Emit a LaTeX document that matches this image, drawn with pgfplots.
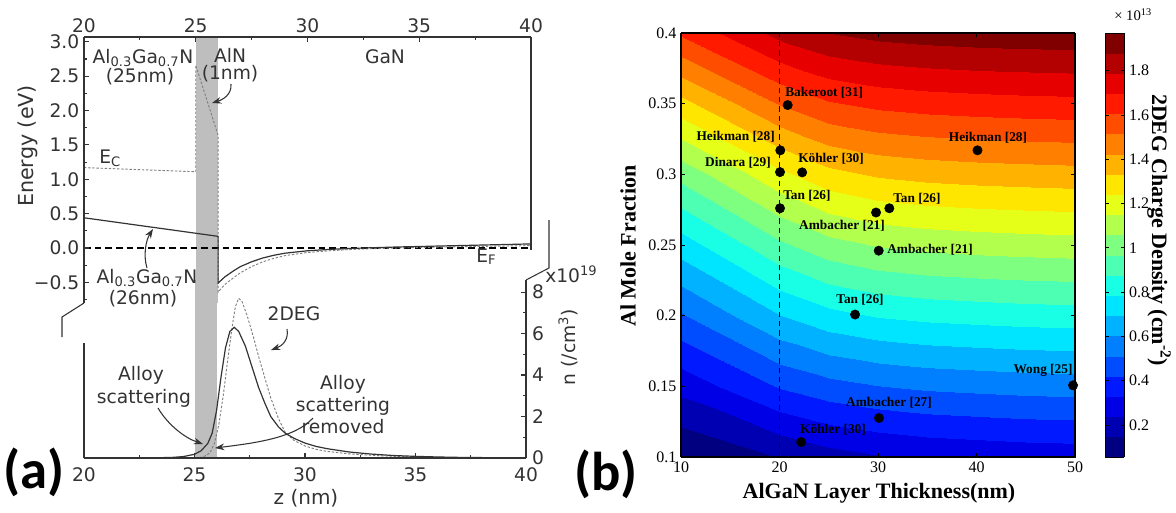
\documentclass[border=0pt]{standalone}
\usepackage{pgfplots}
\pgfplotsset{compat=1.18}
\usetikzlibrary{arrows.meta}
\usepackage{fontspec}
\setmainfont{DejaVu Sans}
\newfontfamily\tms{Liberation Serif}
\newfontfamily\calb{Carlito}
\definecolor{spine}{HTML}{333333}
\definecolor{band}{HTML}{BEBEBE}
\newcommand{\fa}{\fontsize{14}{16}\selectfont}
\newcommand{\fbt}{\tms\fontsize{12}{14}\selectfont}
\newcommand{\fbl}{\tms\bfseries\fontsize{10}{12}\selectfont}
\newcommand{\fbx}{\tms\bfseries\fontsize{16.5}{19}\selectfont}
\begin{document}
\begin{tikzpicture}
\useasboundingbox (0,0) rectangle (882pt,-384pt);

% ---------------- (a) upper: energy ----------------
\begin{axis}[
  at={(63pt,-227.25pt)}, anchor=south west,
  scale only axis, width=335.25pt, height=199.5pt,
  xmin=20, xmax=40, ymin=-0.8, ymax=3.07,
  axis x line*=top, axis y line*=left,
  axis line style={spine, line width=0.8pt},
  xtick={20,25,30,35,40}, xticklabels={20,25,30,35,40},
  minor xtick={22.5,27.5,32.5,37.5},
  ytick={-0.5,0,0.5,1,1.5,2,2.5,3},
  yticklabels={−0.5,0.0,0.5,1.0,1.5,2.0,2.5,3.0},
  minor ytick={-0.75,-0.25,0.25,0.75,1.25,1.75,2.25,2.75},
  tick align=inside, major tick length=3.75pt, minor tick length=2pt,
  tick style={spine, line width=0.8pt},
  tick label style={font=\fa, text=spine},
  axis on top, clip=false,
]
\addplot[fill=band, draw=none] coordinates {(25,-0.8) (26,-0.8) (26,3.07) (25,3.07)} -- cycle;
\addplot[black, line width=0.8pt, dash pattern=on 5pt off 3pt] coordinates {(20,0) (40,0)};
\addplot[gray, line width=0.7pt, dash pattern=on 1.8pt off 1.3pt] coordinates {
(20,1.17) (25,1.11) (25,2.66) (26,1.64) (26,-0.64) (26.3,-0.53) (26.7,-0.43) (27,-0.36)
(27.5,-0.27) (28,-0.2) (28.5,-0.15) (29,-0.11) (30,-0.065) (31,-0.04) (32,-0.02) (33,-0.008)
(34,0.0) (35,0.008) (36,0.014) (37,0.02) (38,0.025) (39,0.03) (40,0.035)};
\addplot[spine, line width=0.9pt] coordinates {
(20,0.44) (26,0.17) (26,-0.51) (26.3,-0.42) (26.7,-0.33) (27.0,-0.27) (27.5,-0.20) (28,-0.145)
(28.5,-0.105) (29,-0.075) (30,-0.04) (31,-0.02) (32,-0.005) (33,0.005) (34,0.015) (35,0.022)
(36,0.03) (37,0.037) (38,0.045) (39,0.052) (40,0.06)};
\end{axis}

% ---------------- (a) lower: density ----------------
\begin{axis}[
  at={(63pt,-343.5pt)}, anchor=south west,
  scale only axis, width=331.5pt, height=133.5pt,
  xmin=20, xmax=40, ymin=0, ymax=8.58,
  axis x line*=bottom, axis y line*=right,
  axis line style={spine, line width=0.8pt},
  xtick={20,25,30,35,40}, xticklabels={20,25,30,35,40},
  minor xtick={22.5,27.5,32.5,37.5},
  ytick={0,2,4,6,8}, yticklabels={0,2,4,6,8},
  minor ytick={1,3,5,7},
  tick align=inside, major tick length=3.75pt, minor tick length=2pt,
  tick style={spine, line width=0.8pt},
  tick label style={font=\fa, text=spine},
  xticklabel style={yshift=-3.5pt},
  yticklabel style={xshift=1pt},
  axis on top, clip=false,
]
\addplot[fill=band, draw=none] coordinates {(25,0) (26,0) (26,8.58) (25,8.58)} -- cycle;
\addplot[gray, line width=0.7pt, dash pattern=on 1.8pt off 1.3pt] coordinates {
(20,0) (25,0) (25.4,0.05) (25.7,0.25) (25.9,0.7) (26.1,1.6) (26.3,3.0) (26.5,4.7) (26.7,6.3)
(26.85,7.3) (27.0,7.7) (27.15,7.55) (27.4,6.8) (27.7,5.7) (27.9,4.9) (28.2,3.8) (28.45,2.9)
(28.8,1.9) (29.1,1.25) (29.5,0.85) (30,0.58) (30.5,0.42) (31,0.32) (32,0.2) (33,0.13)
(34,0.08) (35,0.05) (36,0.03) (38,0.01) (40,0)};
\addplot[spine, line width=0.9pt] coordinates {
(20,0) (23,0.005) (24,0.03) (24.5,0.07) (25,0.18) (25.3,0.35) (25.6,0.7) (25.8,1.2) (26.0,2.3)
(26.2,3.9) (26.4,5.3) (26.6,6.1) (26.8,6.3) (27.0,6.1) (27.3,5.4) (27.6,4.4) (27.9,3.4)
(28.2,2.6) (28.45,2.0) (28.8,1.5) (29.1,1.2) (29.5,0.95) (30,0.72) (30.5,0.56) (31,0.45)
(32,0.29) (33,0.19) (34,0.12) (35,0.08) (36,0.05) (37,0.03) (38,0.02) (40,0.005)};
\end{axis}

% ---------------- (b) contour ----------------
\begin{axis}[
  at={(510.75pt,-342.75pt)}, anchor=south west,
  scale only axis, width=295.5pt, height=318pt,
  view={0}{90},
  xmin=10, xmax=50, ymin=0.1, ymax=0.4,
  ztick=\empty,
  colormap/jet,
  point meta min=0.055, point meta max=1.97,
  xtick={10,20,30,40,50}, xticklabels={10,20,30,40,50},
  ytick={0.1,0.15,0.2,0.25,0.3,0.35,0.4},
  yticklabels={0.1,0.15,0.2,0.25,0.3,0.35,0.4},
  tick align=inside, major tick length=3pt,
  tick style={black, line width=0.6pt},
  tick label style={font=\fbt},
  axis line style={black, line width=0.8pt},
  axis on top, clip=false,
  colorbar,
  colorbar style={
    at={(parent axis.north east)}, anchor=north west, xshift=14.25pt,
    width=14.25pt,
    ytick={0.2,0.4,0.6,0.8,1,1.2,1.4,1.6,1.8},
    yticklabels={0.2,0.4,0.6,0.8,1,1.2,1.4,1.6,1.8},
    yticklabel style={font=\fbt},
    tick align=inside, major tick length=2.5pt,
    axis line style={line width=0.4pt},
  },
]
\addplot3[contour filled={number=21}, mesh/cols=8] table[row sep=\\] {
x y z \\
10 0.10 0.030 \\ 20 0.10 0.150 \\ 25 0.10 0.200 \\ 30 0.10 0.230 \\ 35 0.10 0.250 \\ 40 0.10 0.260 \\ 45 0.10 0.270 \\ 50 0.10 0.275 \\
10 0.15 0.270 \\ 20 0.15 0.430 \\ 25 0.15 0.480 \\ 30 0.15 0.510 \\ 35 0.15 0.529 \\ 40 0.15 0.539 \\ 45 0.15 0.548 \\ 50 0.15 0.553 \\
10 0.20 0.500 \\ 20 0.20 0.690 \\ 25 0.20 0.755 \\ 30 0.20 0.790 \\ 35 0.20 0.808 \\ 40 0.20 0.818 \\ 45 0.20 0.827 \\ 50 0.20 0.832 \\
10 0.25 0.740 \\ 20 0.25 0.950 \\ 25 0.25 1.025 \\ 30 0.25 1.065 \\ 35 0.25 1.085 \\ 40 0.25 1.096 \\ 45 0.25 1.104 \\ 50 0.25 1.110 \\
10 0.30 1.000 \\ 20 0.30 1.220 \\ 25 0.30 1.305 \\ 30 0.30 1.345 \\ 35 0.30 1.364 \\ 40 0.30 1.375 \\ 45 0.30 1.382 \\ 50 0.30 1.388 \\
10 0.35 1.300 \\ 20 0.35 1.520 \\ 25 0.35 1.595 \\ 30 0.35 1.628 \\ 35 0.35 1.645 \\ 40 0.35 1.655 \\ 45 0.35 1.662 \\ 50 0.35 1.667 \\
10 0.40 1.620 \\ 20 0.40 1.820 \\ 25 0.40 1.880 \\ 30 0.40 1.910 \\ 35 0.40 1.925 \\ 40 0.40 1.935 \\ 45 0.40 1.940 \\ 50 0.40 1.945 \\
};
\addplot3[black, line width=0.6pt, dash pattern=on 4pt off 3pt] coordinates {(20,0.1,2) (20,0.4,2)};
\addplot3[only marks, mark=*, mark size=3.5pt, black] coordinates {
(20.83,0.349,2) (20.08,0.317,2) (20.05,0.3016,2) (22.3,0.3014,2) (20.05,0.276,2)
(29.8,0.273,2) (31.15,0.276,2) (30.07,0.246,2) (40.1,0.317,2) (27.67,0.2008,2)
(30.1,0.1276,2) (22.2,0.1106,2) (49.8,0.1507,2)};
\end{axis}

% ---------------- annotations (pixel frame) ----------------
\begin{scope}[x=0.75pt, y=-0.75pt]
\draw[spine, line width=0.8pt] (84,303) -- (62,317) -- (62,337);
\draw[spine, line width=0.8pt] (84,343) -- (84,458);
\draw[spine, line width=0.8pt] (531,37) -- (531,250);
\draw[spine, line width=0.8pt] (549,220) -- (549,268) -- (526,280);

\node[anchor=base, font=\fa, text=spine] at (143,63) {Al\textsubscript{0.3}Ga\textsubscript{0.7}N};
\node[anchor=base, font=\fa, text=spine] at (140,82) {(25nm)};
\node[anchor=base, font=\fa, text=spine] at (230,62) {AlN};
\node[anchor=base, font=\fa, text=spine] at (230,79) {(1nm)};
\node[anchor=base, font=\fa, text=spine] at (385,63) {GaN};
\node[anchor=base west, inner sep=0pt, font=\fa, text=spine] at (99,163) {E\textsubscript{C}};
\node[anchor=base west, inner sep=0pt, font=\fa, text=spine] at (476,262) {E\textsubscript{F}};
\node[anchor=base, font=\fa, text=spine] at (147,283) {Al\textsubscript{0.3}Ga\textsubscript{0.7}N};
\node[anchor=base, font=\fa, text=spine] at (143,304) {(26nm)};
\node[anchor=base, font=\fa, text=spine] at (294,320) {2DEG};
\node[anchor=base, font=\fa, text=spine] at (141,380) {Alloy};
\node[anchor=base, font=\fa, text=spine] at (144,403) {scattering};
\node[anchor=base, font=\fa, text=spine] at (343,389) {Alloy};
\node[anchor=base, font=\fa, text=spine] at (343,411) {scattering};
\node[anchor=base, font=\fa, text=spine] at (343,433) {removed};
\node[anchor=base west, inner sep=0pt, font=\fa, text=spine] at (545,282) {x10\textsuperscript{19}};
\node[rotate=90, font=\fa, text=spine] at (568,347) {n (/cm\textsuperscript{3})};
\node[rotate=90, font=\fontsize{15.5}{18}\selectfont, text=spine] at (28,146) {Energy (eV)};
\node[font=\fontsize{15}{18}\selectfont, text=spine] at (306,498) {z (nm)};
\node[font=\calb\bfseries\fontsize{41}{45}\selectfont] at (34,472) {(a)};
\node[font=\calb\bfseries\fontsize{41}{45}\selectfont] at (606,474) {(b)};

\draw[spine, line width=0.8pt, -{Stealth[length=7pt,width=5pt]}] (231,84) .. controls (232,95) and (222,100) .. (212,103);
\draw[spine, line width=0.8pt, -{Stealth[length=7pt,width=5pt]}] (147,268) .. controls (143,255) and (146,240) .. (153,229);
\draw[spine, line width=0.8pt, -{Stealth[length=7pt,width=5pt]}] (287,329) .. controls (289,340) and (282,346) .. (271,350);
\draw[spine, line width=0.8pt, -{Stealth[length=7pt,width=5pt]}] (158,408) .. controls (168,425) and (185,438) .. (203,444);
\draw[spine, line width=0.8pt, -{Stealth[length=7pt,width=5pt]}] (313,418) .. controls (295,438) and (255,443) .. (215,448);

\node[anchor=west, inner sep=0pt, font=\fbl] at (785,93) {Bakeroot [31]};
\node[anchor=east, inner sep=0pt, font=\fbl] at (775,137) {Heikman [28]};
\node[anchor=east, inner sep=0pt, font=\fbl] at (771,163) {Dinara [29]};
\node[anchor=west, inner sep=0pt, font=\fbl] at (798,159) {Köhler [30]};
\node[anchor=west, inner sep=0pt, font=\fbl] at (783,196) {Tan [26]};
\node[inner sep=0pt, font=\fbl] at (842,226) {Ambacher [21]};
\node[anchor=west, inner sep=0pt, font=\fbl] at (893,199) {Tan [26]};
\node[anchor=west, inner sep=0pt, font=\fbl] at (887,250) {Ambacher [21]};
\node[inner sep=0pt, font=\fbl] at (988,138) {Heikman [28]};
\node[inner sep=0pt, font=\fbl] at (860,300) {Tan [26]};
\node[inner sep=0pt, font=\fbl] at (889,403) {Ambacher [27]};
\node[inner sep=0pt, font=\fbl] at (833,430) {Köhler [30]};
\node[inner sep=0pt, font=\fbl] at (1043,370) {Wong [25]};
\node[rotate=90, font=\fbx] at (628,246) {Al Mole Fraction};
\node[font=\fbx] at (879,493) {AlGaN Layer Thickness(nm)};
\node[rotate=-90, font=\fbx] at (1159,230) {2DEG Charge Density (cm\textsuperscript{-2})};
\node[anchor=west, inner sep=0pt, font=\tms\fontsize{11}{13}\selectfont] at (1114,15) {× 10\textsuperscript{13}};
\end{scope}
\end{tikzpicture}
\end{document}
